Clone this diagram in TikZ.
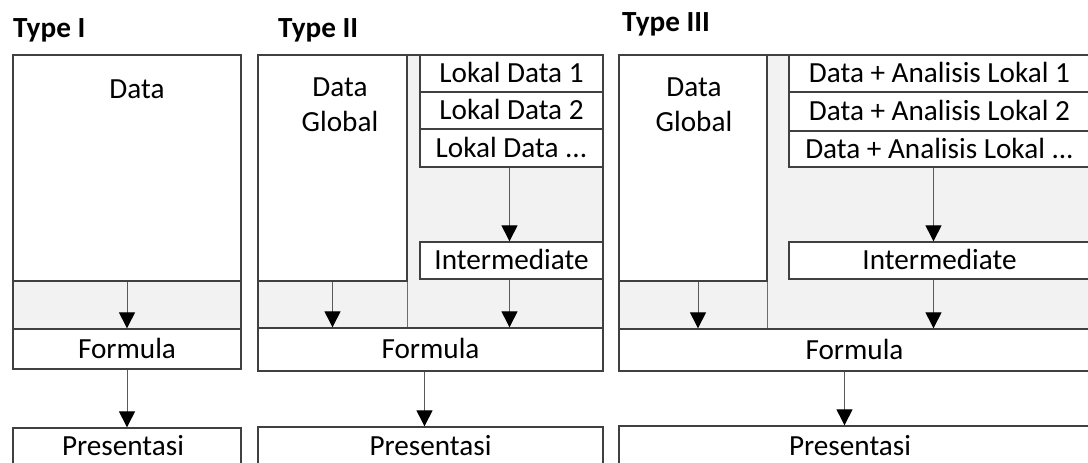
\documentclass[tikz,border=0pt]{standalone}
\usepackage{fontspec}
\setmainfont{Carlito}
\usetikzlibrary{arrows.meta}
\definecolor{linec}{RGB}{64,64,64}
\definecolor{divc}{RGB}{110,110,110}
\definecolor{shaftc}{RGB}{90,90,90}
\definecolor{bandc}{RGB}{242,242,242}
\newcommand{\myfs}{\fontsize{29.2}{35}\selectfont}
\begin{document}
\begin{tikzpicture}[x=1pt,y=-1pt,
  box/.style={draw=linec, line width=1.3pt, fill=white, inner sep=0pt,
    font=\myfs, text height=18.5pt, text depth=0pt},
  band/.style={draw=linec, line width=1.3pt, fill=bandc, inner sep=0pt},
  txt/.style={inner sep=0pt, font=\myfs, align=center},
  ctxt/.style={inner sep=0pt, font=\myfs, text height=18.5pt, text depth=0pt},
  ttl/.style={inner sep=0pt, anchor=west, font=\myfs\bfseries, text height=18.5pt, text depth=0pt},
  arr/.style={draw=shaftc, line width=1pt, -{Triangle[width=16pt,length=16pt,black]}},
  div/.style={draw=divc, line width=1.3pt}
]
\useasboundingbox (0,0) rectangle (1088,463);
\clip (0,0) rectangle (1088,463);

% ---------- titles ----------
\node[ttl] (t1) at (13,28.5) {Type I};
\node[ttl] (t2) at (278,28.5) {Type II};
\node[ttl] (t3) at (622,22) {Type III};

% ---------- Type I ----------
\node[band, minimum width=228, minimum height=48] (bandI) at (127,305) {};
\node[box, minimum width=228, minimum height=226] (dataI) at (127,168) {};
\node[txt] (dataIt) at (137,89) {Data};
\node[box, minimum width=228, minimum height=40] (formI) at (127,349) {Formula};
\node[box, minimum width=228, minimum height=42] (presI) at (127,449) {};
\node[ctxt] (presIt) at (123,446) {Presentasi};
\draw[arr] (dataI.south) -- (formI.north);
\draw[arr] (formI.south) -- (presI.north);

% ---------- Type II ----------
\node[band, minimum width=345, minimum height=273] (panelII) at (430.5,191.5) {};
\node[box, minimum width=149, minimum height=226] (dgII) at (332.5,168) {};
\node[txt] (dgIIt) at (340,105) {Data\\Global};
\draw[div] (dgII.south east) -- (dgII.south east |- panelII.south);
\node[box, minimum width=183, minimum height=37] (l1II) at (511.5,73.5) {Lokal Data 1};
\node[box, minimum width=183, minimum height=37] (l2II) at (511.5,110.5) {Lokal Data 2};
\node[box, minimum width=183, minimum height=38] (l3II) at (511.5,148) {Lokal Data ...};
\node[box, minimum width=183, minimum height=37] (intII) at (511.5,260.5) {Intermediate};
\node[box, minimum width=345, minimum height=43] (formII) at (430.5,349.5) {Formula};
\node[box, minimum width=345, minimum height=43] (presII) at (430.5,448.5) {};
\node[ctxt] (presIIt) at (430.5,446) {Presentasi};
\draw[arr] ([xshift=-2]l3II.south) -- ([xshift=-2]intII.north);
\draw[arr] ([xshift=-2]intII.south) -- ([xshift=-2]intII.south |- formII.north);
\draw[arr] (dgII.south) -- (dgII.south |- formII.north);
\draw[arr] ([xshift=-6]formII.south) -- ([xshift=-6]presII.north);

% ---------- Type III ----------
\node[band, minimum width=471, minimum height=274] (panelIII) at (854.5,192) {};
\node[box, minimum width=148, minimum height=226] (dgIII) at (693,168) {};
\node[txt] (dgIIIt) at (694,105) {Data\\Global};
\draw[div] (dgIII.south east) -- (dgIII.south east |- panelIII.south);
\node[box, minimum width=301, minimum height=37] (l1III) at (939.5,73.5) {Data + Analisis Lokal 1};
\node[box, minimum width=301, minimum height=39] (l2III) at (939.5,111.5) {Data + Analisis Lokal 2};
\node[box, minimum width=301, minimum height=36] (l3III) at (939.5,149) {Data + Analisis Lokal ...};
\node[box, minimum width=301, minimum height=37] (intIII) at (939.5,260.5) {Intermediate};
\node[box, minimum width=471, minimum height=42] (formIII) at (854.5,350) {Formula};
\node[box, minimum width=471, minimum height=44] (presIII) at (854.5,448) {};
\node[ctxt] (presIIIt) at (850,446) {Presentasi};
\draw[arr] ([xshift=-6]l3III.south) -- ([xshift=-6]intIII.north);
\draw[arr] ([xshift=-6]intIII.south) -- ([xshift=-6]intIII.south |- formIII.north);
\draw[arr] ([xshift=5]dgIII.south) -- ([xshift=5]dgIII.south |- formIII.north);
\draw[arr] ([xshift=-10]formIII.south) -- ([xshift=-10]presIII.north);
\end{tikzpicture}
\end{document}
